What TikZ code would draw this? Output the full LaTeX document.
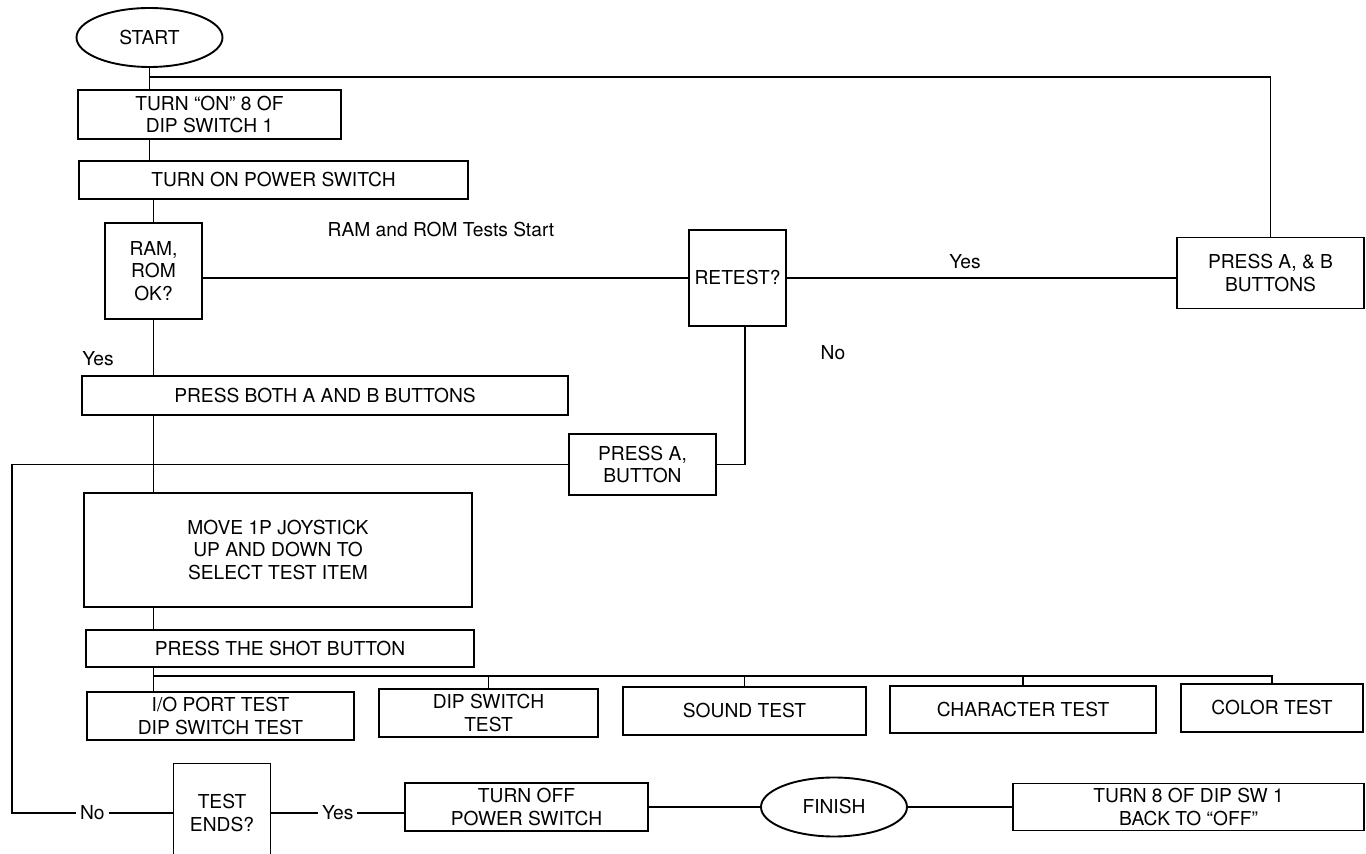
\documentclass[tikz,border=0pt]{standalone}
\usepackage{fontspec}
\setmainfont{TeX Gyre Heros}
\usetikzlibrary{shapes.geometric}

\begin{document}
\begin{tikzpicture}[x=0.5pt, y=-0.5pt, line width=0.65pt,
	font=\fontsize{9.6}{11.2}\selectfont,
	box/.style = {draw, rectangle, line width=0.95pt, align=center, inner sep=0pt},
	term/.style = {draw, ellipse, line width=0.95pt, inner sep=0pt, minimum width=73pt, minimum height=29.5pt},
	lab/.style = {fill=white, inner sep=2pt}]
		\useasboundingbox (0,0) rectangle (1366,854);
		\node[term] (start) at (149.5,37.5) {START};
		\node[box, minimum width=131.5pt, minimum height=24.5pt] (turnon) at (209.5,114.5) {TURN “ON” 8 OF\\DIP SWITCH 1};
		\node[box, minimum width=194.5pt, minimum height=19pt] (power) at (273.5,180) {TURN ON POWER SWITCH};
		\node[box, minimum width=48.5pt, minimum height=48pt] (ram) at (153.5,271) {RAM,\\ROM\\OK?};
		\node[box, minimum width=48.5pt, minimum height=48pt] (retest) at (737.5,278) {RETEST?};
		\node[box, minimum width=93.5pt, minimum height=35.5pt] (pressab) at (1270.5,273) {PRESS A, \& B\\BUTTONS};
		\node[box, minimum width=243pt, minimum height=19.5pt] (both) at (325,395.5) {PRESS BOTH A AND B BUTTONS};
		\node[box, minimum width=73.5pt, minimum height=30.5pt] (pressa) at (642.5,464.5) {PRESS A,\\BUTTON};
		\node[box, minimum width=194pt, minimum height=57pt] (move) at (278,550) {MOVE 1P JOYSTICK\\UP AND DOWN TO\\SELECT TEST ITEM};
		\node[box, minimum width=194pt, minimum height=18.5pt] (shot) at (280,648.5) {PRESS THE SHOT BUTTON};
		\node[box, minimum width=133.5pt, minimum height=24pt] (io) at (220.5,716) {I/O PORT TEST\\DIP SWITCH TEST};
		\node[box, minimum width=109.5pt, minimum height=24pt] (dip) at (488.5,713) {DIP SWITCH\\TEST};
		\node[box, minimum width=121.5pt, minimum height=24pt] (sound) at (744.5,711) {SOUND TEST};
		\node[box, minimum width=133pt, minimum height=23.5pt] (char) at (1023,709.5) {CHARACTER TEST};
		\node[box, minimum width=91pt, minimum height=24pt] (color) at (1272,708) {COLOR TEST};
		\node[box, minimum width=48.5pt, minimum height=49.5pt] (ends) at (222,813) {TEST\\ENDS?};
		\node[box, minimum width=121.5pt, minimum height=24pt] (off) at (526.5,807) {TURN OFF\\POWER SWITCH};
		\node[term] (finish) at (834,807) {FINISH};
		\node[box, minimum width=175.5pt, minimum height=23.5pt] (turn8) at (1188.5,807) {TURN 8 OF DIP SW 1\\BACK TO “OFF”};
		\node (ramrom) at (441,230) {RAM and ROM Tests Start};
		\node (yesram) at (98,359) {Yes};
		\node (yesre) at (965,262) {Yes};
		\node (nore) at (833,353) {No};
		\coordinate (split) at (149.5,77);
		\coordinate (bus) at (153.5,676);
		\coordinate (ret) at (12,813);
		\draw (start.south) -- (start.south |- turnon.north);
		\draw (split) -| (pressab.north);
		\draw (start |- turnon.south) -- (start |- power.north);
		\draw (ram.north |- power.south) -- (ram.north);
		\draw (ram.east |- retest.west) -- (retest.west);
		\draw (retest.east) -- (retest.east -| pressab.west);
		\draw (retest.south) ++(7.5,0) |- (pressa.east);
		\draw (ram.south) -- (ram |- both.north);
		\draw (ram |- both.south) -- (ram |- move.north);
		\draw (pressa.west) -| (ret) -- node[lab] {No} (ends.west);
		\draw (ram |- move.south) -- (ram |- shot.north);
		\draw (ram |- shot.south) -- (ram |- io.north);
		\draw (bus) -| (color.north);
		\foreach \t in {dip, sound, char}
			\draw (\t.north) -- (\t.north |- bus);
		\draw (ends.east) -- node[lab] {Yes} (ends.east -| off.west);
		\draw (off.east) -- (finish.west);
		\draw (finish.east) -- (turn8.west);
	\end{tikzpicture}
\end{document}
